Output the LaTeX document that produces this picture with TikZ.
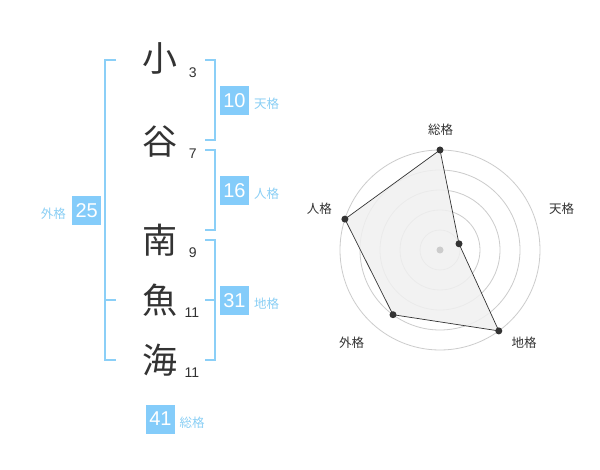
\documentclass[tikz,border=0pt]{standalone}
\usepackage{fontspec}
\setmainfont{Liberation Sans}
\newfontfamily\cjkfont{Noto Sans CJK JP}
\definecolor{boxblue}{HTML}{84CCFA}
\definecolor{brblue}{HTML}{8BCFF7}
\definecolor{lblblue}{HTML}{8ACFF5}
\definecolor{txt}{HTML}{333333}
\definecolor{ring}{HTML}{CCCCCC}
\definecolor{polyfill}{HTML}{F0F0F0}
\tikzset{
  kanji/.style={inner sep=0pt, text=txt, font=\cjkfont\fontsize{35}{35}\selectfont},
  strokes/.style={inner sep=0pt, text=txt, font=\fontsize{14}{14}\selectfont},
  numbox/.style={fill=boxblue, minimum width=29pt, minimum height=29pt, inner sep=0pt, text=white, font=\fontsize{20}{20}\selectfont},
  kaku/.style={inner sep=0pt, text=lblblue, font=\cjkfont\fontsize{12.5}{12.5}\selectfont},
  bracket/.style={draw=brblue, line width=2pt},
  radarlbl/.style={inner sep=0pt, text=txt, font=\cjkfont\fontsize{12.5}{12.5}\selectfont},
  ringline/.style={draw=ring, line width=0.8pt},
  pt/.style={circle, fill=txt, inner sep=0pt, minimum size=7pt},
}
\begin{document}
\begin{tikzpicture}[x=1pt,y=-1pt]
\useasboundingbox[fill=white] (0,0) rectangle (600,470);
% characters
\node[kanji] (k1) at (160,58) {小};
\node[kanji] (k2) at (160,142) {谷};
\node[kanji] (k3) at (160,240) {南};
\node[kanji] (k4) at (160,300) {魚};
\node[kanji] (k5) at (160,360) {海};
\node[strokes] (s1) at (192.7,72.7) {3};
\node[strokes] (s2) at (192.7,153.3) {7};
\node[strokes] (s3) at (192.7,252.3) {9};
\node[strokes] (s4) at (192,312.7) {11};
\node[strokes] (s5) at (192,372.3) {11};
% brackets
\coordinate (la) at (116,60); \coordinate (lb) at (116,360); \coordinate (lm) at (116,300);
\draw[bracket] (la) -- (105,60) -- (105,360) -- (lb);
\draw[bracket] (105,300) -- (lm);
\coordinate (ta) at (205,60); \coordinate (tb) at (205,140);
\draw[bracket] (ta) -- (214.5,60) -- (214.5,140) -- (tb);
\coordinate (ja) at (205,150); \coordinate (jb) at (205,230);
\draw[bracket] (ja) -- (214.5,150) -- (214.5,230) -- (jb);
\coordinate (ca) at (205,240); \coordinate (cb) at (205,360); \coordinate (cm) at (214.5,300);
\draw[bracket] (ca) -- (214.5,240) -- (214.5,360) -- (cb);
\draw[bracket] (cm) -- (205,300);
% boxes
\node[numbox] (b10) at (234.5,100.5) {10};
\node[kaku, anchor=west] (l10) at (254,104) {天格};
\node[numbox] (b16) at (234.5,190.5) {16};
\node[kaku, anchor=west] (l16) at (254,194) {人格};
\node[numbox] (b25) at (86.7,210.5) {25};
\node[kaku, anchor=east] (l25) at (66,213.3) {外格};
\node[numbox] (b31) at (234.5,300.5) {31};
\node[kaku, anchor=west] (l31) at (254,304) {地格};
\node[numbox] (b41) at (160.5,419) {41};
\node[kaku, anchor=west] (l41) at (179.5,422.3) {総格};
% radar
\coordinate (c) at (440,250);
\foreach \r in {20,40,60,80,100} \draw[ringline] (c) circle (\r);
\coordinate (p1) at (440,150);
\coordinate (p2) at (459.0,243.8);
\coordinate (p3) at (498.8,330.9);
\coordinate (p4) at (393.0,314.7);
\coordinate (p5) at (344.9,219.1);
\filldraw[fill=polyfill, fill opacity=0.85, draw=txt, line width=0.7pt] (p1) -- (p2) -- (p3) -- (p4) -- (p5) -- cycle;
\node[circle, fill=ring, inner sep=0pt, minimum size=7pt] (cd) at (c) {};
\foreach \p in {p1,p2,p3,p4,p5} \node[pt] at (\p) {};
\node[radarlbl] (r1) at (440.7,130) {総格};
\node[radarlbl] (r2) at (561.7,208.3) {天格};
\node[radarlbl] (r3) at (524,342.3) {地格};
\node[radarlbl] (r4) at (351.7,342.3) {外格};
\node[radarlbl] (r5) at (319.3,209) {人格};
\end{tikzpicture}
\end{document}
